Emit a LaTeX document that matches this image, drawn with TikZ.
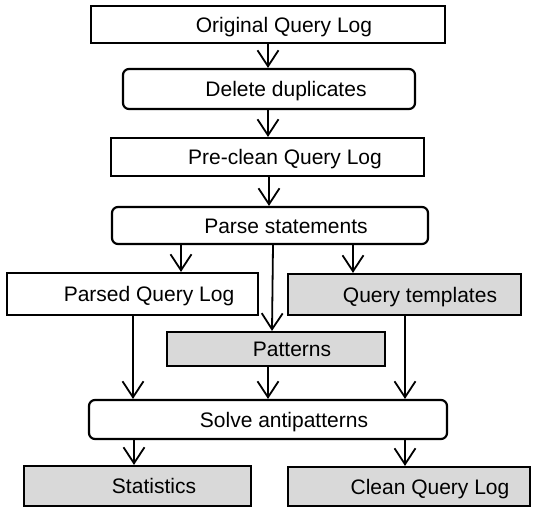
\documentclass[tikz,border=0pt]{standalone}
\usepackage{fontspec}
\setmainfont{Liberation Sans}
\usetikzlibrary{arrows.meta}
\definecolor{boxgray}{HTML}{D9D9D9}
\begin{document}
\begin{tikzpicture}[x=1pt,y=-1pt,
  box/.style={draw=black, line width=2.2pt, fill=white, inner sep=0pt},
  rbox/.style={box, rounded corners=6pt},
  gbox/.style={box, fill=boxgray},
  lbl/.style={font=\fontsize{21}{25}\selectfont, inner sep=0pt, anchor=base},
  arr/.style={line width=1.8pt, -{Straight Barb[length=16pt,width=21pt,line width=1.8pt]}}]
\useasboundingbox (0,0) rectangle (536,507);
% boxes
\node[box,  minimum width=354pt, minimum height=37pt] (orig)   at (268,24.5) {};
\node[rbox, minimum width=292pt, minimum height=40pt] (del)    at (269,89) {};
\node[box,  minimum width=313pt, minimum height=38pt] (pre)    at (267.5,157) {};
\node[rbox, minimum width=316pt, minimum height=37pt] (parse)  at (270,225.5) {};
\node[box,  minimum width=251pt, minimum height=42pt] (parsed) at (132.5,294) {};
\node[gbox, minimum width=233pt, minimum height=41pt] (qt)     at (404.5,294.5) {};
\node[gbox, minimum width=218pt, minimum height=34pt] (pat)    at (276,349) {};
\node[rbox, minimum width=358pt, minimum height=39pt] (solve)  at (268,419.5) {};
\node[gbox, minimum width=227pt, minimum height=40pt] (stat)   at (137.5,486) {};
\node[gbox, minimum width=242pt, minimum height=39pt] (clean)  at (409,486.5) {};
% labels
\node[lbl] (torig)   at (284,32)    {Original Query Log};
\node[lbl] (tdel)    at (286,96.5)  {Delete duplicates};
\node[lbl] (tpre)    at (285,164.5) {Pre-clean Query Log};
\node[lbl] (tparse)  at (286,233)   {Parse statements};
\node[lbl] (tparsed) at (149,301.5) {Parsed Query Log};
\node[lbl] (tqt)     at (420,302)   {Query templates};
\node[lbl] (tpat)    at (292,356.5) {Patterns};
\node[lbl] (tsolve)  at (284,427)   {Solve antipatterns};
\node[lbl] (tstat)   at (154,493.5) {Statistics};
\node[lbl] (tclean)  at (430,494)   {Clean Query Log};
% connectors
\draw[arr] (orig.south -| 268,0) -- (del.north -| 268,0);
\draw[arr] (del.south -| 268,0) -- (pre.north -| 268,0);
\draw[arr] (pre.south -| 269,0) -- (parse.north -| 269,0);
\draw[arr] (parse.south -| 181,0) -- (parsed.north -| 181,0);
\draw[arr] (parse.south -| 273,0) -- (pat.north -| 272,0);
\draw[arr] (parse.south -| 353,0) -- (qt.north -| 353,0);
\draw[arr] (parsed.south -| 133,0) -- (solve.north -| 133,0);
\draw[arr] (pat.south -| 268,0) -- (solve.north -| 268,0);
\draw[arr] (qt.south -| 405,0) -- (solve.north -| 405,0);
\draw[arr] (solve.south -| 134,0) -- (stat.north -| 134,0);
\draw[arr] (solve.south -| 405,0) -- (clean.north -| 405,0);
\end{tikzpicture}
\end{document}
